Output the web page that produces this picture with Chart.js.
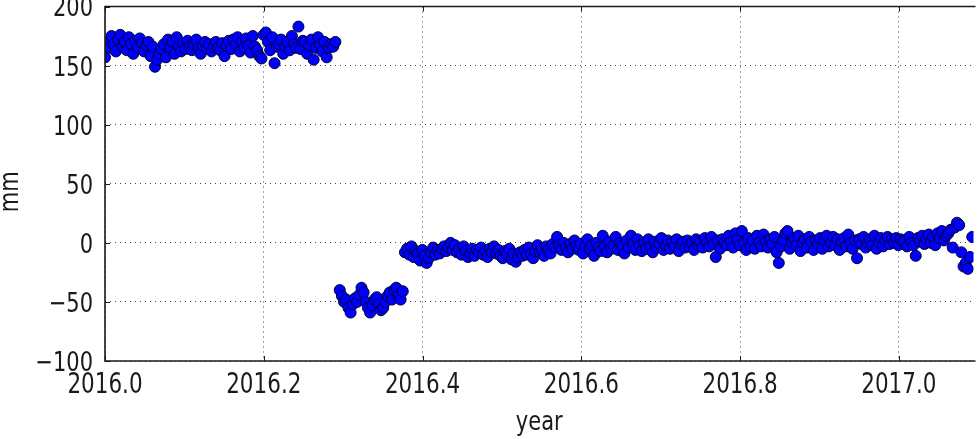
<!DOCTYPE html>
<html>
<head>
<meta charset="utf-8">
<script src="https://cdn.jsdelivr.net/npm/chart.js@4/dist/chart.umd.min.js"></script>
<style>
  html, body { margin: 0; padding: 0; background: #fff; overflow: hidden; }
  #wrap { width: 980px; height: 439px; position: relative; }
</style>
</head>
<body>
<div id="wrap"><canvas id="c"></canvas></div>
<script>
// Daily displacement record (mm). Each segment starts on the given day of 2016.
const segmentStartDays = [0, 108, 138];

const segmentA = [
  157, 170, 165, 175, 168, 162, 172, 176, 166, 170,
  163, 174, 168, 160, 171, 165, 173, 169, 162, 167,
  170, 158, 166, 149, 155, 160, 164, 168, 157, 172,
  165, 170, 160, 174, 167, 162, 169, 164, 171, 166,
  163, 168, 172, 165, 160, 167, 170, 164, 168, 162,
  166, 170, 165, 163, 169, 158, 167, 171, 164, 172,
  168, 174, 162, 170, 165, 173, 167, 161, 175, 166,
  163, 158, 156, 176, 178, 170, 163, 174, 152, 166,
  168, 172, 160, 166, 170, 163, 175, 168, 165, 183,
  164, 171, 170, 160, 167, 172, 155, 165, 174, 168,
  162, 170, 157, 165, 168, 166, 170
];

const segmentB = [
  -40, -45, -50, -48, -55, -59, -52, -47, -50, -44,
  -38, -42, -50, -55, -59, -53, -48, -46, -52, -57,
  -55, -50, -45, -42, -48, -40, -38, -45, -48, -41
];

const segmentC = [
  -8, -5, -10, -3, -12, -7, -9, -15, -6, -11,
  -17, -13, -8, -4, -10, -6, -9, -5, -3, -7,
  -4, 0, -6, -2, -8, -5, -10, -3, -7, -12,
  -9, -5, -11, -6, -8, -4, -10, -7, -12, -5,
  -8, -3, -9, -6, -11, -13, -7, -10, -5, -14,
  -9, -16, -12, -8, -11, -6, -10, -4, -9, -13,
  -7, -2, -8, -5, -11, -3, -6, -9, -1, -4,
  5, -2, -6, 0, -4, -8, -1, -5, 2, -3,
  -6, -1, -9, -3, 3, -5, -2, -11, 0, -4,
  -7, 6, -3, -8, 1, -5, -2, 5, -6, 0,
  -3, -9, 2, -4, 6, -1, -6, 3, -2, -7,
  0, -5, 3, -3, -8, 1, -4, -1, 4, -6,
  -2, 2, -5, 0, -3, 3, -7, -1, 1, -4,
  2, -3, 0, -6, 3, -2, 1, -4, 4, 0,
  -3, 5, -1, -12, 2, -5, 3, 0, -2, 6,
  1, -4, 8, 3, -2, 10, 0, -6, 4, -3,
  2, -5, 6, 0, -3, 7, 1, -4, 3, -1,
  5, -8, -17, -3, 2, 8, 10, -5, 0, 4,
  -2, 6, -7, 0, 3, -4, 5, 1, -6, 2,
  -1, 4, -5, 2, 6, -3, 0, 5, -2, 3,
  -6, 1, 4, -3, 7, 0, -5, 2, -13, 3,
  -1, 5, -4, 0, 3, -2, 6, -5, 1, 4,
  -3, 2, 5, -1, 3, 0, 4, -2, 3, 1,
  2, -3, 5, 0, -2, -11, 4, 1, 6, -1,
  3, 7, 0, 5, -2, 8, 4, 10, 2, 6,
  8, 11, -4, 13, 17, 15, -8, -20, -17, -22,
  -12, 5
];

const xTickStep = 0.2;
const yTickValues = [-100, -50, 0, 50, 100, 150, 200];
const xLabel = 'year';
const yLabel = 'mm';

const points = [];
[segmentA, segmentB, segmentC].forEach((seg, s) => {
  seg.forEach((v, i) => {
    points.push({ x: 2016 + (segmentStartDays[s] + i) / 365.25, y: v });
  });
});

const FAMILY = "'DejaVu Sans', sans-serif";
const INK = '#1a1a1a';
const TEXT_STRETCH = 1.3;   // glyphs are drawn taller than their natural width
const CAP = 0.729;          // DejaVu Sans cap height (em)

// Draw a string whose glyph centre sits at (x, y), elongated along the glyph height
function drawLabel(ctx, text, x, y, size, align, rotated, centreRatio) {
  ctx.save();
  ctx.translate(x, y);
  if (rotated) ctx.rotate(-Math.PI / 2);
  ctx.scale(1, TEXT_STRETCH);
  ctx.font = size + 'px ' + FAMILY;
  ctx.fillStyle = INK;
  ctx.textAlign = align;
  ctx.textBaseline = 'alphabetic';
  ctx.fillText(text, 0, size * centreRatio);
  ctx.restore();
}

// Axes box (top/left/bottom), short inward tick marks and all axis text
const framePlugin = {
  id: 'frame',
  afterDatasetsDraw(chart) {
    const { ctx, chartArea: a, scales: { x, y } } = chart;
    ctx.save();
    ctx.strokeStyle = INK;
    ctx.lineWidth = 1;
    ctx.beginPath();
    x.ticks.forEach(t => {
      const px = Math.round(x.getPixelForValue(t.value)) + 0.5;
      ctx.moveTo(px, a.bottom); ctx.lineTo(px, a.bottom - 5);
      ctx.moveTo(px, a.top); ctx.lineTo(px, a.top + 5);
    });
    y.ticks.forEach(t => {
      const py = Math.round(y.getPixelForValue(t.value)) + 0.5;
      ctx.moveTo(a.left, py); ctx.lineTo(a.left + 5, py);
    });
    ctx.stroke();
    ctx.lineWidth = 1.6;
    ctx.beginPath();
    ctx.moveTo(a.right + 2, a.top);
    ctx.lineTo(a.left, a.top);
    ctx.lineTo(a.left, a.bottom);
    ctx.lineTo(a.right + 2, a.bottom);
    ctx.stroke();
    ctx.restore();

    x.ticks.forEach(t => {
      drawLabel(ctx, t.value.toFixed(1), x.getPixelForValue(t.value), a.bottom + 22, 21.5, 'center', false, CAP / 2);
    });
    y.ticks.forEach(t => {
      const lbl = String(t.value).replace('-', '\u2212');
      drawLabel(ctx, lbl, a.left - 12, y.getPixelForValue(t.value), 21, 'right', false, CAP / 2);
    });
    drawLabel(ctx, xLabel, (a.left + a.right) / 2, 423, 21, 'center', false, 0.27);
    drawLabel(ctx, yLabel, 11, (a.top + a.bottom) / 2 + 8, 21, 'center', true, 0.27);
  }
};

new Chart(document.getElementById('c'), {
  type: 'scatter',
  data: {
    datasets: [{
      data: points,
      clip: 0,
      pointRadius: 5.5,
      pointHoverRadius: 5.5,
      pointBackgroundColor: '#0000ff',
      pointBorderColor: '#000033',
      pointBorderWidth: 1
    }]
  },
  options: {
    responsive: true,
    maintainAspectRatio: false,
    animation: false,
    devicePixelRatio: 1,
    layout: { padding: { top: 5, right: 0, left: 0, bottom: 0 } },
    plugins: { legend: { display: false }, tooltip: { enabled: false } },
    scales: {
      x: {
        type: 'linear',
        min: 2016.0,
        max: 2017.094,
        afterFit(scale) {
          scale.height = 78;
          scale.paddingLeft = 0; scale.paddingRight = 0;
          scale.paddingTop = 0; scale.paddingBottom = 0;
        },
        ticks: { stepSize: xTickStep, includeBounds: false, display: false },
        grid: { color: '#444', lineWidth: 1, drawTicks: false },
        border: { display: false, dash: [1, 4] }
      },
      y: {
        min: -100,
        max: 200,
        afterFit(scale) {
          scale.width = 105;
          scale.paddingLeft = 0; scale.paddingRight = 0;
          scale.paddingTop = 0; scale.paddingBottom = 0;
        },
        afterBuildTicks(scale) { scale.ticks = yTickValues.map(v => ({ value: v })); },
        ticks: { display: false },
        grid: { color: '#444', lineWidth: 1, drawTicks: false },
        border: { display: false, dash: [1, 4] }
      }
    }
  },
  plugins: [framePlugin]
});
</script>
</body>
</html>
